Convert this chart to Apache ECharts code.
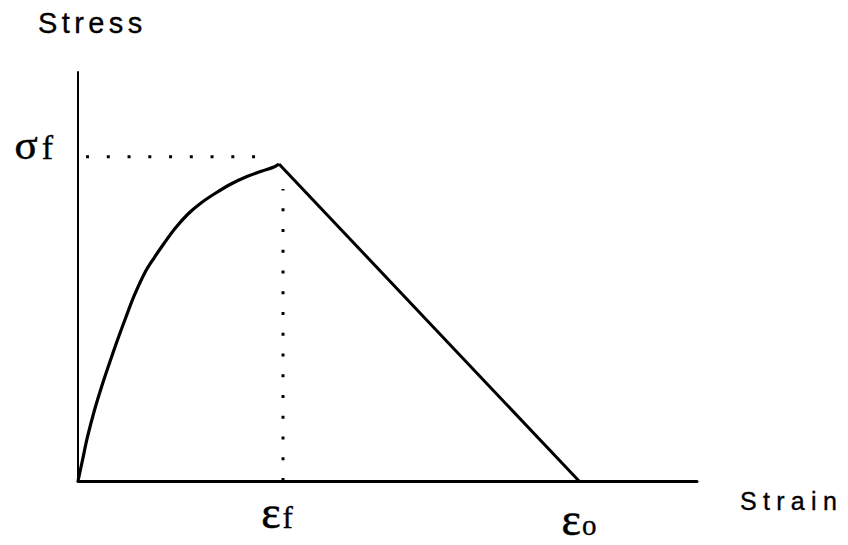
<!DOCTYPE html>
<html>
<head>
<meta charset="utf-8">
<script src="https://cdn.jsdelivr.net/npm/echarts@6/dist/echarts.min.js"></script>
<style>
  html, body { margin: 0; padding: 0; background: #fff; }
  #chart { width: 848px; height: 545px; }
</style>
</head>
<body>
<div id="chart"></div>
<script>
// Rising (hardening) branch of the stress–strain curve, up to the failure point
const strainRise = [0, 0.73, 1.53, 2.67, 3.80, 5.09, 6.38, 7.75, 9.13, 10.82, 12.28, 13.89, 15.67, 17.77, 19.87, 22.13, 24.72, 27.30, 29.73, 31.66, 32.47];
const stressRise = [0, 5.13, 10.76, 17.36, 22.98, 28.85, 34.47, 40.10, 45.48, 50.98, 54.52, 58.07, 61.74, 65.28, 67.97, 70.29, 72.62, 74.45, 75.79, 76.77, 77.51];

// Linear softening branch from the failure point to zero stress
const eps0 = 80.94;
const strainFall = [32.47, eps0];
const stressFall = [77.51, 0];

// Reference levels marked with dotted guides
const sigmaF = 79.3;
const epsF = 33.12;
const guideStrainRange = [1.3, 28.68];  // horizontal guide at sigmaF
const guideStressRange = [0, 71.4];     // vertical guide at epsF

// Text
const yName = 'Stress';
const xName = 'Strain';
const sigmaLabel = ['σ', 'f'];
const epsFLabel = ['ε', 'f'];
const eps0Label = ['ε', 'o'];

const zip = (xs, ys) => xs.map((x, i) => [x, ys[i]]);

const chart = echarts.init(document.getElementById('chart'), null, { renderer: 'svg' });

const hiddenAxis = {
  type: 'value', min: 0, max: 100,
  axisTick: { show: false }, axisLabel: { show: false }, splitLine: { show: false }
};

const dotted = { color: '#000', width: 3, type: [3, 17.75], cap: 'butt' };

chart.setOption({
  animation: false,
  backgroundColor: '#fff',
  grid: { left: 78, right: 151, top: 72, bottom: 64 },
  xAxis: Object.assign({}, hiddenAxis, {
    axisLine: { show: true, onZero: false, lineStyle: { color: '#000', width: 3 } }
  }),
  yAxis: Object.assign({}, hiddenAxis, {
    axisLine: { show: true, onZero: false, lineStyle: { color: '#000', width: 2 } }
  }),
  series: [
    {
      type: 'line', data: zip(strainRise, stressRise), smooth: 0.35,
      symbol: 'none', lineStyle: { color: '#000', width: 3.2 }, z: 3
    },
    {
      type: 'line', data: zip(strainFall, stressFall),
      symbol: 'none', lineStyle: { color: '#000', width: 3 }, z: 3
    },
    {
      type: 'line', data: zip(guideStrainRange, [sigmaF, sigmaF]),
      symbol: 'none', lineStyle: dotted
    },
    {
      type: 'line', data: zip([epsF, epsF], guideStressRange),
      symbol: 'none', lineStyle: dotted
    }
  ]
});

const px = (x, y) => chart.convertToPixel({ gridIndex: 0 }, [x, y]);
const axisEnd = px(100, 0);
const pSigma = px(0, sigmaF);
const pEpsF = px(epsF, 0);
const pEps0 = px(eps0, 0);

const serif = 'Liberation Serif';
const ink = { fill: '#000', stroke: '#000', lineWidth: 0.35 };

// Symbol + suffix label; the suffix is nudged down so both share one baseline
function symbolLabel(parts, bigSize, smallSize, gap, drop) {
  return {
    text: '{g|' + parts[0] + '}{s|' + parts[1] + '}',
    verticalAlign: 'middle',
    rich: {
      g: { fontFamily: serif, fontSize: bigSize, fill: '#000', verticalAlign: 'middle',
           stroke: '#000', lineWidth: 0.55 },
      s: { fontFamily: serif, fontSize: smallSize, fill: '#000', verticalAlign: 'middle',
           stroke: '#000', lineWidth: 0.35, padding: [drop, 0, 0, gap] }
    }
  };
}

chart.setOption({
  graphic: [
    {
      type: 'text', x: 38, y: 23,
      style: Object.assign({ text: yName, fontFamily: 'Liberation Sans', fontSize: 29,
               verticalAlign: 'middle' }, ink)
    },
    {
      type: 'text', x: axisEnd[0] + 43, y: axisEnd[1] + 20,
      style: Object.assign({ text: xName, fontFamily: 'Liberation Sans', fontSize: 25,
               verticalAlign: 'middle' }, ink)
    },
    {
      type: 'text', x: pSigma[0] - 25, y: pSigma[1] - 12,
      style: Object.assign(symbolLabel(sigmaLabel, 43, 34, 4, 6), { align: 'right' })
    },
    {
      type: 'text', x: pEpsF[0] - 6, y: pEpsF[1] + 31,
      style: Object.assign(symbolLabel(epsFLabel, 46, 31, 2, 10), { align: 'center' })
    },
    {
      type: 'text', x: pEps0[0], y: pEps0[1] + 38,
      style: Object.assign(symbolLabel(eps0Label, 46, 29, 1, 11), { align: 'center' })
    }
  ]
});

// Widen the tracking of the axis titles
function spaceTitles() {
  document.querySelectorAll('#chart text').forEach(t => {
    if (t.textContent === yName) t.style.letterSpacing = '4.4px';
    if (t.textContent === xName) t.style.letterSpacing = '6.3px';
  });
}
spaceTitles();
chart.on('finished', spaceTitles);
</script>
</body>
</html>
